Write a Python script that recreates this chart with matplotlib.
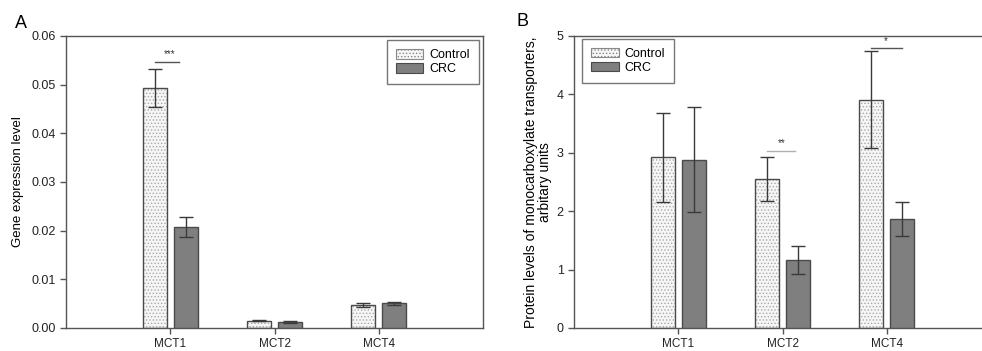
import matplotlib
matplotlib.use("Agg")
import matplotlib.pyplot as plt
from matplotlib.patches import Patch
import numpy as np

plt.rcParams['font.family'] = ['Liberation Sans', 'DejaVu Sans']
plt.rcParams['hatch.linewidth'] = 0.6

categories = ["MCT1", "MCT2", "MCT4"]
series = ["Control", "CRC"]

gene_control = [0.0494, 0.0015, 0.0048]
gene_control_err = [0.0039, 0.0001, 0.0004]
gene_crc = [0.0207, 0.0012, 0.0051]
gene_crc_err = [0.0021, 0.0002, 0.0003]

prot_control = [2.92, 2.55, 3.91]
prot_control_err = [0.77, 0.38, 0.83]
prot_crc = [2.88, 1.17, 1.86]
prot_crc_err = [0.90, 0.24, 0.29]

gene_ticks = [0.00, 0.01, 0.02, 0.03, 0.04, 0.05, 0.06]
prot_ticks = [0, 1, 2, 3, 4, 5]

W, H = 982, 351
fig = plt.figure(figsize=(W / 100, H / 100), dpi=100)

spine_col = '#555555'
ctrl_face = '#f6f6f6'
ctrl_hatch = '#a8a8a8'
crc_face = '#7f7f7f'
edge_col = '#4a4a4a'
err_col = '#3a3a3a'

bw = 0.23
off = 0.15


def draw_panel(ax, ctrl, ctrl_err, crc, crc_err):
    x = np.arange(1, len(categories) + 1)
    ax.bar(x - off, ctrl, bw, color=ctrl_face, edgecolor=ctrl_hatch, hatch='.....', linewidth=0, zorder=2)
    ax.bar(x - off, ctrl, bw, fill=False, edgecolor=edge_col, linewidth=1.0, zorder=3)
    ax.bar(x + off, crc, bw, color=crc_face, edgecolor=edge_col, linewidth=1.0, zorder=3)
    ax.errorbar(x - off, ctrl, yerr=ctrl_err, fmt='none', ecolor=err_col, elinewidth=1.0,
                capsize=5, capthick=1.0, zorder=4)
    ax.errorbar(x + off, crc, yerr=crc_err, fmt='none', ecolor=err_col, elinewidth=1.0,
                capsize=5, capthick=1.0, zorder=4)
    ax.set_xlim(0, 4)
    ax.set_xticks(x)
    ax.set_xticklabels(categories, fontsize=8.5)
    for s in ax.spines.values():
        s.set_color(spine_col)
        s.set_linewidth(1.0)
    ax.tick_params(axis='both', direction='out', length=4, width=1.0, color=spine_col,
                   labelsize=9, labelcolor='#222222')
    ax.tick_params(axis='x', pad=3, labelsize=8.5)
    return x


def add_legend(ax, loc, anchor):
    handles = [Patch(facecolor=ctrl_face, edgecolor='#888888', hatch='.....', linewidth=0.8),
               Patch(facecolor=crc_face, edgecolor=edge_col, linewidth=0.8)]
    leg = ax.legend(handles, series, loc=loc, bbox_to_anchor=anchor, fancybox=False,
                    edgecolor=spine_col, fontsize=9, handlelength=2.2, handleheight=0.8,
                    borderpad=0.7, labelspacing=0.15, handletextpad=0.5, borderaxespad=0)
    leg.get_frame().set_linewidth(1.0)


# Panel A
axA = fig.add_axes([66 / W, 23 / H, 417 / W, 292 / H])
xA = draw_panel(axA, gene_control, gene_control_err, gene_crc, gene_crc_err)
axA.set_ylim(0, 0.06)
axA.set_yticks(gene_ticks)
axA.set_yticklabels([f"{t:.2f}" for t in gene_ticks])
axA.set_ylabel("Gene expression level", fontsize=9.5, labelpad=5)
add_legend(axA, 'upper right', (0.99, 0.985))
axA.plot([xA[0] - off, xA[0] + off - 0.07], [0.0547, 0.0547], color='#555555', lw=1.0)
axA.text(xA[0] - 0.01, 0.0552, "***", ha='center', va='bottom', fontsize=7, color='#333333')
fig.text(15 / W, 1 - 24 / H, "A", fontsize=13, va='center', ha='left')

# Panel B
axB = fig.add_axes([574 / W, 23 / H, 417 / W, 292 / H])
xB = draw_panel(axB, prot_control, prot_control_err, prot_crc, prot_crc_err)
axB.set_ylim(0, 5)
axB.set_yticks(prot_ticks)
axB.set_yticklabels([str(t) for t in prot_ticks])
axB.set_ylabel("Protein levels of monocarboxylate transporters,\narbitary units",
               fontsize=10, labelpad=3, linespacing=1.0)
add_legend(axB, 'upper left', (0.02, 0.99))
axB.plot([xB[1] - off, xB[1] + off - 0.03], [3.03, 3.03], color='#b0b0b0', lw=1.0)
axB.text(xB[1] - 0.01, 3.08, "**", ha='center', va='bottom', fontsize=7, color='#333333')
axB.plot([xB[2] - off, xB[2] + off], [4.79, 4.79], color='#555555', lw=1.0)
axB.text(xB[2] - 0.01, 4.83, "*", ha='center', va='bottom', fontsize=7, color='#333333')
fig.text(517 / W, 1 - 22 / H, "B", fontsize=13, va='center', ha='left')

fig.savefig("out.png", dpi=100)
